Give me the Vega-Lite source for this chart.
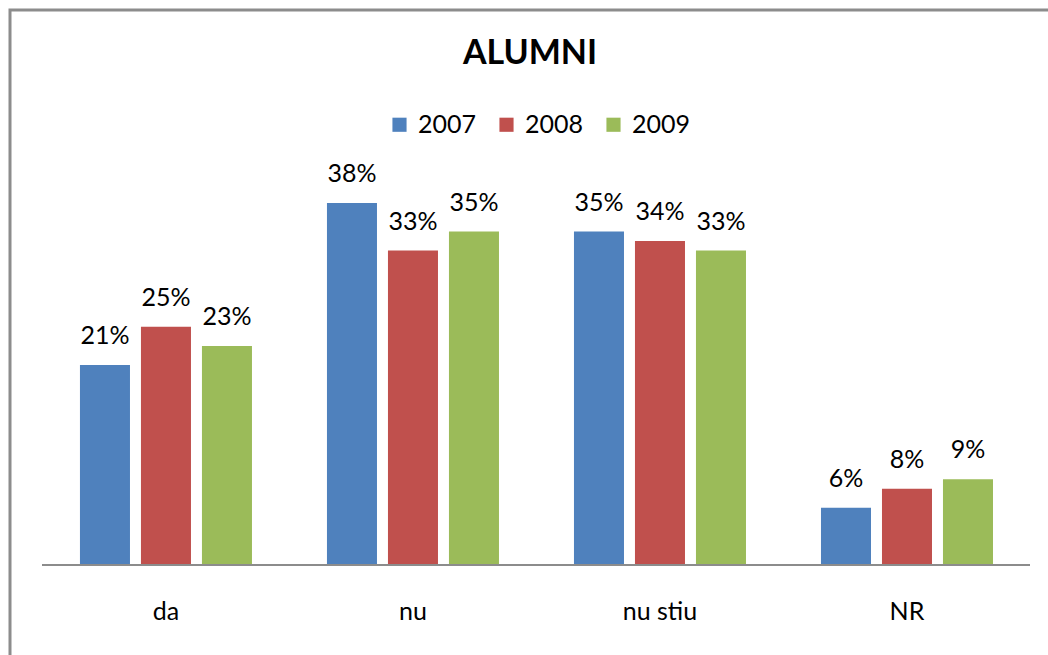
{
  "$schema": "https://vega.github.io/schema/vega-lite/v6.json",
  "autosize": "none",
  "width": 1040,
  "height": 647,
  "padding": {"left": 10, "top": 10, "right": -2, "bottom": -2},
  "background": "white",
  "config": {
    "view": {"stroke": "#8c8c8c", "strokeWidth": 3},
    "font": "Lato"
  },
  "title": {
    "text": "ALUMNI",
    "fontSize": 34,
    "fontWeight": "bold",
    "font": "Lato",
    "color": "#000000",
    "anchor": "middle",
    "baseline": "alphabetic",
    "dy": 92
  },
  "datasets": {
    "main": [
      {"cat": "da", "year": "2007", "value": 0.21},
      {"cat": "da", "year": "2008", "value": 0.25},
      {"cat": "da", "year": "2009", "value": 0.23},
      {"cat": "nu", "year": "2007", "value": 0.38},
      {"cat": "nu", "year": "2008", "value": 0.33},
      {"cat": "nu", "year": "2009", "value": 0.35},
      {"cat": "nu stiu", "year": "2007", "value": 0.35},
      {"cat": "nu stiu", "year": "2008", "value": 0.34},
      {"cat": "nu stiu", "year": "2009", "value": 0.33},
      {"cat": "NR", "year": "2007", "value": 0.06},
      {"cat": "NR", "year": "2008", "value": 0.08},
      {"cat": "NR", "year": "2009", "value": 0.09}
    ],
    "cats": [{"cat": "da"}, {"cat": "nu"}, {"cat": "nu stiu"}, {"cat": "NR"}]
  },
  "resolve": {"scale": {"x": "shared", "y": "shared"}},
  "layer": [
    {
      "data": {"name": "main"},
      "mark": {"type": "bar"},
      "encoding": {
        "x": {
          "field": "cat", "type": "nominal", "sort": ["da", "nu", "nu stiu", "NR"],
          "scale": {"paddingInner": 0.3036, "paddingOuter": 0.257, "align": 0.551},
          "axis": null
        },
        "xOffset": {"field": "year", "type": "nominal", "scale": {"paddingInner": 0.18, "paddingOuter": 0}},
        "y": {
          "field": "value", "type": "quantitative",
          "scale": {"domain": [-0.0966, 0.5826], "nice": false, "zero": false},
          "axis": null
        },
        "y2": {"datum": 0},
        "color": {
          "field": "year", "type": "nominal",
          "scale": {"domain": ["2007", "2008", "2009"], "range": ["#4F81BD", "#C0504D", "#9BBB59"]},
          "legend": {
            "title": null,
            "orient": "none",
            "legendX": 377,
            "legendY": 102,
            "direction": "horizontal",
            "symbolType": "square",
            "symbolSize": 200,
            "symbolStrokeWidth": 0,
            "labelFontSize": 25,
            "labelFont": "Lato",
            "labelColor": "#000000",
            "labelOffset": 6,
            "columnPadding": 17
          }
        }
      }
    },
    {
      "data": {"name": "main"},
      "mark": {"type": "text", "fontSize": 25, "baseline": "alphabetic", "dy": -21, "color": "#000000"},
      "encoding": {
        "x": {"field": "cat", "type": "nominal", "sort": ["da", "nu", "nu stiu", "NR"]},
        "xOffset": {"field": "year", "type": "nominal"},
        "y": {"field": "value", "type": "quantitative"},
        "text": {"field": "value", "type": "quantitative", "format": ".0%"}
      }
    },
    {
      "data": {"name": "cats"},
      "mark": {"type": "rule", "color": "#8c8c8c", "strokeWidth": 2},
      "encoding": {
        "x": {"datum": "da", "bandPosition": -0.22},
        "x2": {"datum": "NR", "bandPosition": 1.215},
        "y": {"datum": 0}
      }
    },
    {
      "data": {"name": "cats"},
      "mark": {"type": "text", "fontSize": 25, "baseline": "middle", "color": "#000000"},
      "encoding": {
        "x": {"field": "cat", "type": "nominal", "sort": ["da", "nu", "nu stiu", "NR"]},
        "y": {"datum": -0.0493},
        "text": {"field": "cat", "type": "nominal"}
      }
    }
  ]
}
